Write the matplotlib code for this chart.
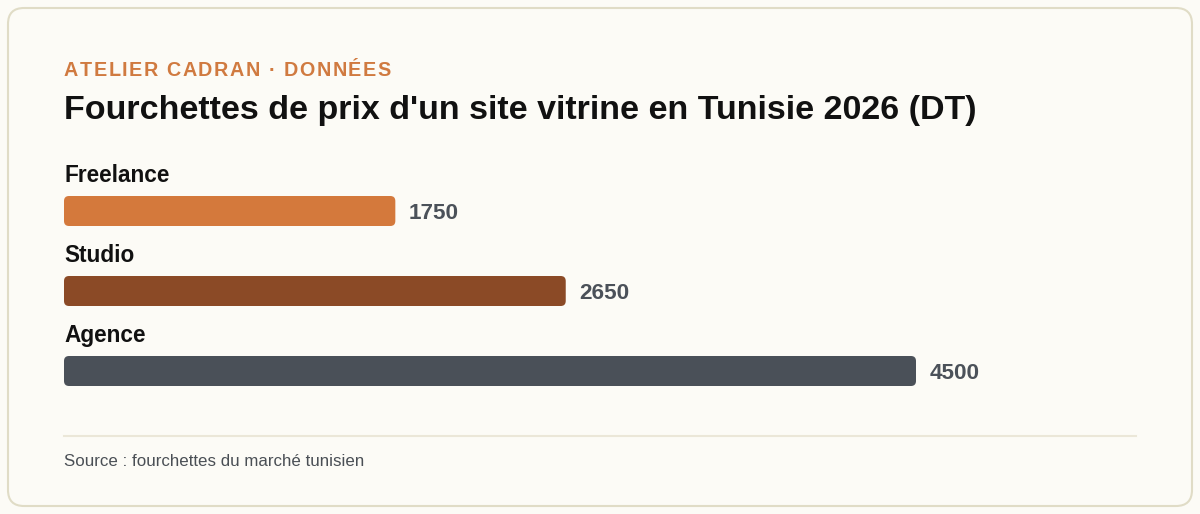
import numpy as np
import matplotlib
matplotlib.use("Agg")
import matplotlib.pyplot as plt
from matplotlib.patches import FancyBboxPatch
from matplotlib.transforms import IdentityTransform
from matplotlib.lines import Line2D

plt.rcParams["font.family"] = ["Liberation Sans", "DejaVu Sans"]

categories = ["Freelance", "Studio", "Agence"]
prices = [1750, 2650, 4500]
bar_colors = ["#d4793c", "#8b4a26", "#4a5058"]
kicker = "ATELIER CADRAN · DONNÉES"
title = "Fourchettes de prix d'un site vitrine en Tunisie 2026 (DT)"
source = "Source : fourchettes du marché tunisien"

W, H = 1200, 514
fig = plt.figure(figsize=(W / 100, H / 100), dpi=100)
fig.patch.set_facecolor("#fcfbf6")

def fy(px_from_top):
    return (H - px_from_top) / H

# card behind everything
card = FancyBboxPatch((8 + 16, 8 + 16), 1184 - 32, 498 - 32,
                      boxstyle="round,pad=16", transform=IdentityTransform(),
                      facecolor="#fcfbf6", edgecolor="#e0dcc6", linewidth=1.5, zorder=-10)
fig.patches.append(card)

fig.canvas.draw()
renderer = fig.canvas.get_renderer()

# kicker with letter spacing
x = 64.0
spacing = 1.55
for ch in kicker:
    t = fig.text(x / W, fy(76), ch, fontsize=14.2, fontweight="bold",
                 color="#d07a40", va="baseline", ha="left")
    w = t.get_window_extent(renderer).width
    if ch == " ":
        w = 14.2 * 100 / 72 * 0.278
    x += w + spacing

fig.text(64 / W, fy(119.5), title, fontsize=24.5, fontweight="bold",
         color="#111111", va="baseline", ha="left")

# bars axes: category i centered at 211 + 80*i px
ax = fig.add_axes([64 / W, (H - 411) / H, 852 / W, 240 / H])
ax.set_xlim(0, 4500)
ax.set_ylim(2.5, -0.5)
ax.axis("off")
ypos = np.arange(len(categories))
bars = ax.barh(ypos, prices, height=0.375, color=bar_colors)

fig.canvas.draw()
for rect, col in zip(bars, bar_colors):
    bb = rect.get_window_extent()
    rect.set_visible(False)
    r = 5
    fig.patches.append(FancyBboxPatch((bb.x0 + r, bb.y0 + r), bb.width - 2 * r, bb.height - 2 * r,
                                      boxstyle="round,pad=%d" % r, transform=IdentityTransform(),
                                      facecolor=col, edgecolor="none", zorder=1))

for i, (cat, val) in enumerate(zip(categories, prices)):
    ax.text(0, i - 0.36, cat, fontsize=16.3, fontweight="bold", color="#111111",
            ha="left", va="baseline", clip_on=False)
    ax.annotate(str(val), (val, i + 0.1), xytext=(9.5, 0), textcoords="offset points",
                fontsize=16.2, fontweight="bold", color="#4b5159",
                ha="left", va="baseline", annotation_clip=False)

fig.lines.append(Line2D([64 / W, 1136 / W], [fy(436), fy(436)], transform=fig.transFigure,
                        color="#ebe7d8", linewidth=1.5))
fig.text(64 / W, fy(465.5), source, fontsize=12.2, color="#4a4f55", va="baseline", ha="left")

fig.savefig("out.png", dpi=100, facecolor=fig.get_facecolor())
